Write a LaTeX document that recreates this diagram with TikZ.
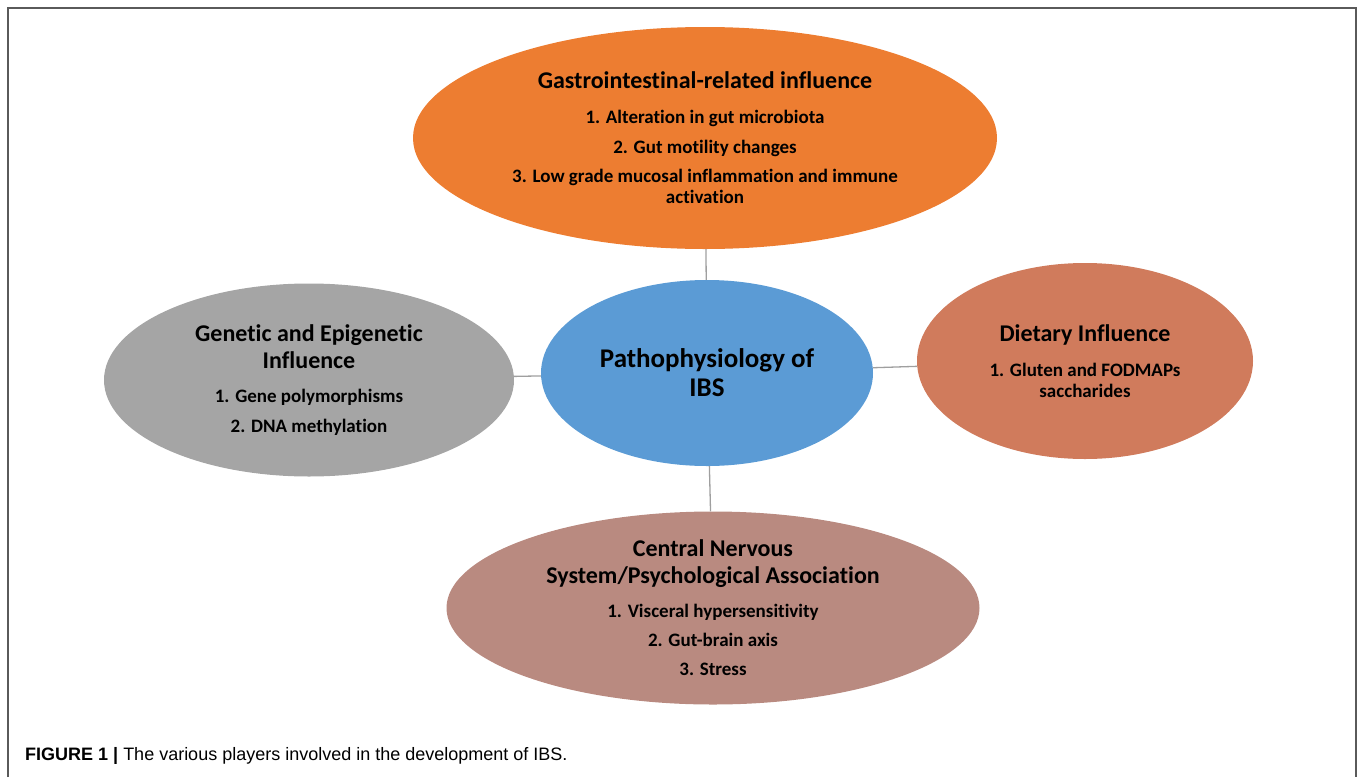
\documentclass[tikz,border=0pt]{standalone}
\usepackage{fontspec}
\setmainfont{Carlito}[Ligatures=CommonOff]
\newfontfamily\capfont{Liberation Sans}
\usetikzlibrary{shapes.geometric}
\definecolor{giorange}{HTML}{ED7D31}
\definecolor{ibsblue}{HTML}{5B9BD5}
\definecolor{genegray}{HTML}{A5A5A5}
\definecolor{dietbrown}{HTML}{D07B5C}
\definecolor{cnsrose}{HTML}{B98A80}
\definecolor{framegray}{HTML}{5A5A5A}
\newcommand{\headf}{\fontsize{24}{27}\selectfont}

\begin{document}
\begin{tikzpicture}[x=1pt,y=1pt,
		blob/.style={ellipse,inner sep=0pt,align=center,text=black,
			font=\bfseries\fontsize{19}{21}\selectfont},
		link/.style={draw=gray!75,line width=1.3pt}]
		\useasboundingbox (0,0) rectangle (1358,-777);
		\draw[framegray,line width=1.5pt] (8,-777) -- (8,-8) -- (1356,-8) -- (1356,-777);
		\node[blob,fill=ibsblue,minimum width=332pt,minimum height=186pt,
			font=\bfseries\fontsize{27}{29}\selectfont] (ibs) at (707,-373) {Pathophysiology of\\IBS};
		\node[blob,fill=giorange,minimum width=584pt,minimum height=222pt] (gi) at (705,-138)
			{{\headf Gastrointestinal-related influence}\\[14pt]
			1. Alteration in gut microbiota\\[9pt]
			2. Gut motility changes\\[8pt]
			3. Low grade mucosal inflammation and immune\\activation};
		\node[blob,fill=genegray,minimum width=410pt,minimum height=193pt] (gene) at (309,-380)
			{{\headf Genetic and Epigenetic}\\[6pt]{\headf Influence}\\[13pt]
			1. Gene polymorphisms\\[9pt]
			2. DNA methylation};
		\node[blob,fill=dietbrown,minimum width=336pt,minimum height=196pt] (diet) at (1085,-361)
			{{\headf Dietary Influence}\\[14pt]
			1. Gluten and FODMAPs\\saccharides};
		\node[blob,fill=cnsrose,minimum width=533pt,minimum height=193pt] (cns) at (713,-608)
			{{\headf Central Nervous}\\[6pt]{\headf System/Psychological Association}\\[13pt]
			1. Visceral hypersensitivity\\[8pt]
			2. Gut-brain axis\\[8pt]
			3. Stress};
		\draw[link] (gi) -- (ibs);
		\draw[link] (gene) -- (ibs);
		\draw[link] (diet) -- (ibs);
		\draw[link] (cns) -- (ibs);
		\node[anchor=base west,inner sep=0pt,font=\capfont\fontsize{18}{21}\selectfont] (cap) at (25,-760)
			{\textbf{FIGURE 1 |} The various players involved in the development of IBS.};
\end{tikzpicture}
\end{document}
